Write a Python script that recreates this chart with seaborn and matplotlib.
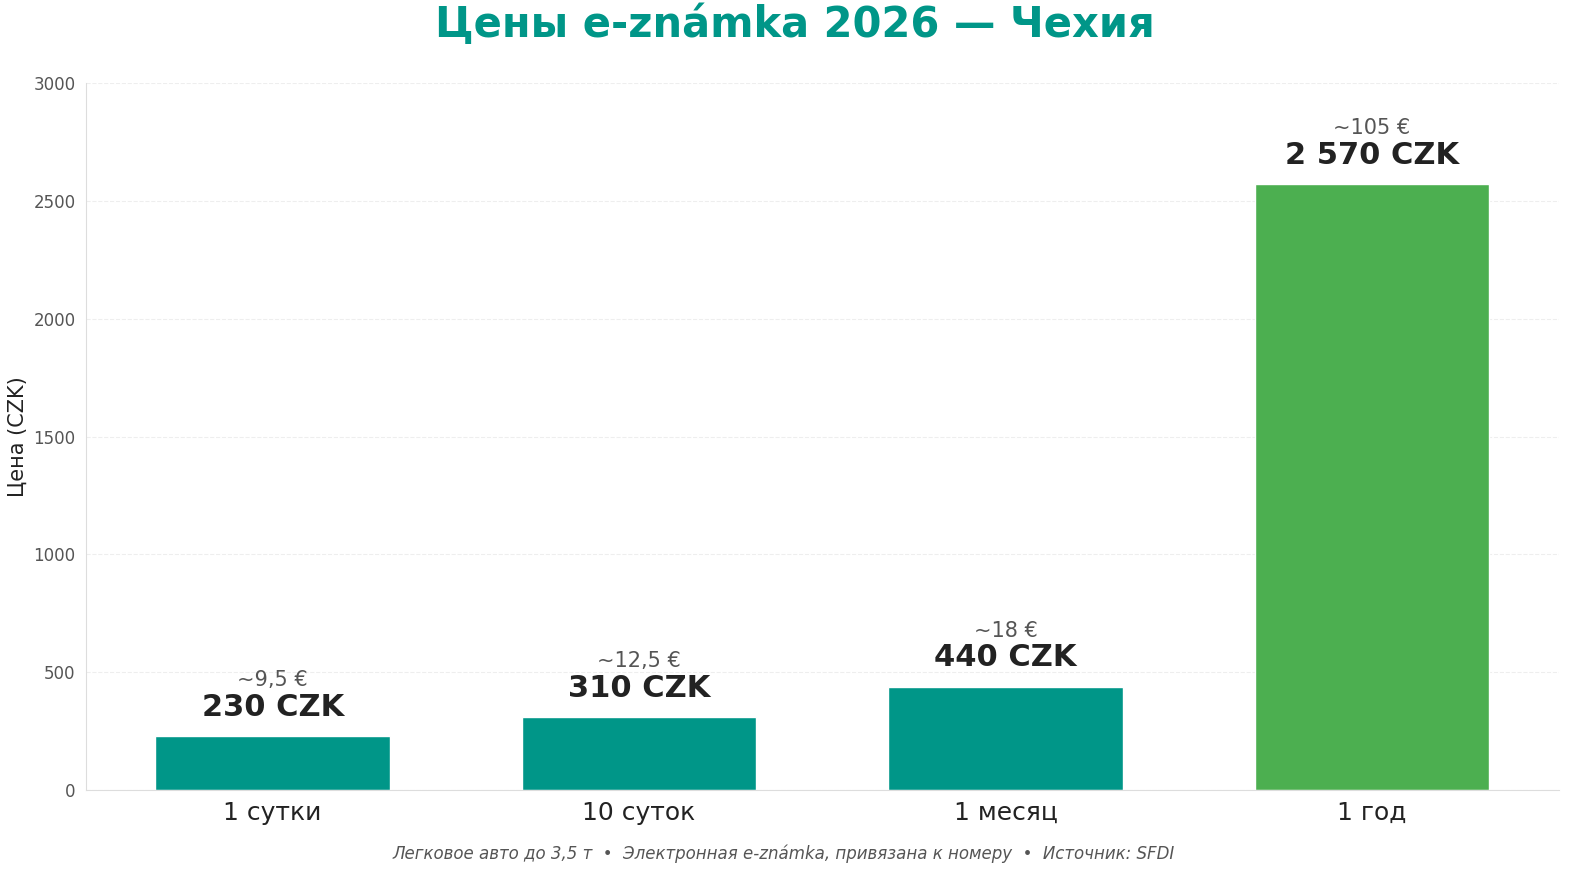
import seaborn as sns
import matplotlib.pyplot as plt
import pandas as pd

periods = ["1 сутки", "10 суток", "1 месяц", "1 год"]
prices_czk = [230, 310, 440, 2570]
price_labels = ["230 CZK", "310 CZK", "440 CZK", "2 570 CZK"]
euro_labels = ["~9,5 €", "~12,5 €", "~18 €", "~105 €"]
bar_colors = ["#009688", "#009688", "#009688", "#4CAF50"]

df = pd.DataFrame({"period": periods, "price": prices_czk})

sns.set_style("white")
plt.rcParams["font.family"] = ["DejaVu Sans"]

fig = plt.figure(figsize=(15.89, 8.82), dpi=100)
ax = fig.add_axes([0.054, 0.104, 0.927, 0.802])
sns.barplot(data=df, x="period", y="price", hue="period", palette=bar_colors,
            width=0.64, saturation=1, legend=False, ax=ax)

for i, (v, pl, el) in enumerate(zip(prices_czk, price_labels, euro_labels)):
    ax.text(i, v + 60, pl, ha="center", va="bottom", fontsize=22, fontweight="bold", color="#222222")
    ax.text(i, v + 195, el, ha="center", va="bottom", fontsize=15, color="#555555")

ax.set_ylim(0, 3000)
ax.set_xlim(-0.51, 3.51)
ax.set_yticks(range(0, 3001, 500))
ax.yaxis.grid(True, linestyle="--", color="#eeeeee", linewidth=0.8)
ax.set_axisbelow(True)
for s in ["top", "right"]:
    ax.spines[s].set_visible(False)
for s in ["left", "bottom"]:
    ax.spines[s].set_color("#dddddd")
ax.tick_params(axis="y", labelsize=12, colors="#555555", length=4, color="#dddddd")
ax.tick_params(axis="x", labelsize=18, labelcolor="#222222", length=4, color="#555555")
ax.set_xlabel("")
ax.set_ylabel("Цена (CZK)", fontsize=15, color="#222222")

fig.suptitle("Цены e-známka 2026 — Чехия", fontsize=30, fontweight="bold", color="#009688", y=0.995)
fig.text(0.493, 0.026, "Легковое авто до 3,5 т  •  Электронная e-známka, привязана к номеру  •  Источник: SFDI",
         ha="center", fontsize=12, style="italic", color="#555555")

fig.savefig("out.png", dpi=100)
